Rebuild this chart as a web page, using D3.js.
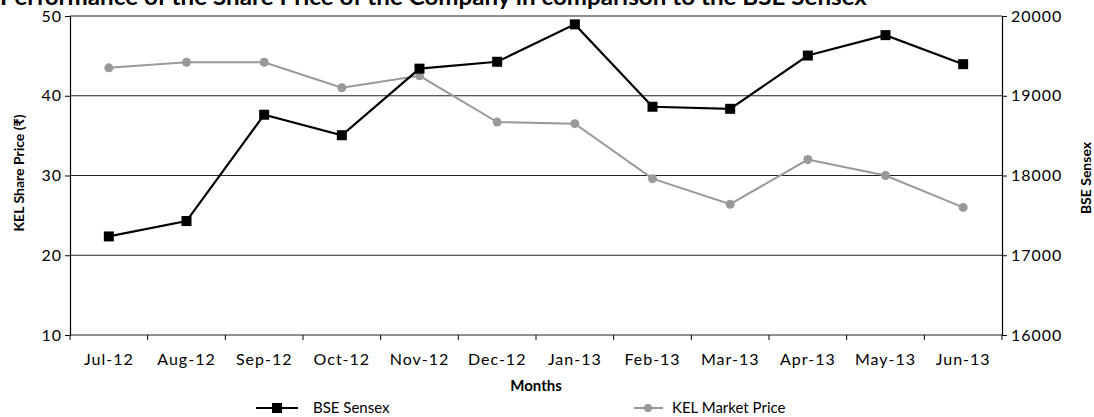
<!DOCTYPE html>
<html>
<head>
<meta charset="utf-8">
<script src="https://cdn.jsdelivr.net/npm/d3@7"></script>
<style>
  body { margin: 0; background: #fff; }
  svg { display: block; }
  text { font-family: "Lato", "Open Sans", sans-serif; fill: #000; }
</style>
</head>
<body>
<svg id="chart" width="1094" height="417"></svg>
<script>
const months = ["Jul-12","Aug-12","Sep-12","Oct-12","Nov-12","Dec-12","Jan-13","Feb-13","Mar-13","Apr-13","May-13","Jun-13"];
const bseSensex = [17236, 17429, 18762, 18505, 19340, 19426, 19895, 18862, 18836, 19504, 19760, 19396];
const kelPrice = [43.5, 44.2, 44.2, 41.0, 42.5, 36.7, 36.5, 29.6, 26.4, 32.0, 30.0, 26.0];
const leftTicks = [10, 20, 30, 40, 50];
const rightTicks = [16000, 17000, 18000, 19000, 20000];

const svg = d3.select("#chart");
const m = { left: 70, right: 1002, top: 16, bottom: 335 };

const x = d3.scaleBand().domain(months).range([m.left, m.right]);
const yL = d3.scaleLinear().domain([10, 50]).range([m.bottom, m.top]);
const yR = d3.scaleLinear().domain([16000, 20000]).range([m.bottom, m.top]);
const cx = d => x(d) + x.bandwidth() / 2;

// Title
svg.append("text").attr("x", 0).attr("y", 5)
  .attr("textLength", 867).attr("lengthAdjust", "spacingAndGlyphs")
  .style("font-size", "22px").style("font-weight", "bold")
  .text("Performance of the Share Price of the Company in comparison to the BSE Sensex");

// Gridlines
svg.append("g").selectAll("line").data(leftTicks).join("line")
  .attr("x1", m.left).attr("x2", m.right)
  .attr("y1", d => yL(d)).attr("y2", d => yL(d))
  .attr("stroke", "#222").attr("stroke-width", 1);

const tickStyle = sel => sel.selectAll("text")
  .style("font-size", "16px").style("letter-spacing", "1px")
  .style("font-family", "Lato, 'Open Sans', sans-serif");

// Left axis
const gL = svg.append("g").attr("transform", `translate(${m.left},0)`)
  .call(d3.axisLeft(yL).tickValues(leftTicks).tickSize(5).tickPadding(3));
gL.select(".domain").attr("stroke", "#000").attr("stroke-width", 1.2);
tickStyle(gL);

// Right axis
const gR = svg.append("g").attr("transform", `translate(${m.right},0)`)
  .call(d3.axisRight(yR).tickValues(rightTicks).tickSize(5).tickPadding(4).tickFormat(d3.format("d")));
gR.select(".domain").attr("stroke", "#000").attr("stroke-width", 1.2);
tickStyle(gR);

// Bottom axis with ticks at category boundaries
const gB = svg.append("g").attr("transform", `translate(0,${m.bottom})`)
  .call(d3.axisBottom(x).tickSize(0).tickPadding(19));
gB.select(".domain").remove();
tickStyle(gB);
const bounds = months.map(d => x(d)).concat([m.right]);
gB.selectAll("line.bt").data(bounds).join("line").attr("class", "bt")
  .attr("x1", d => d).attr("x2", d => d).attr("y1", 0).attr("y2", 5)
  .attr("stroke", "#000");

// Axis titles
svg.append("text").attr("transform", `translate(24,173) rotate(-90)`)
  .attr("text-anchor", "middle").style("font-size", "14px").style("font-weight", "bold")
  .text("KEL  Share Price (₹)");
svg.append("text").attr("transform", `translate(1091,178) rotate(-90)`)
  .attr("text-anchor", "middle").style("font-size", "14px").style("font-weight", "bold")
  .text("BSE Sensex");
svg.append("text").attr("x", (m.left + m.right) / 2).attr("y", 391)
  .attr("text-anchor", "middle").style("font-size", "15px").style("font-weight", "bold")
  .text("Months");

// KEL line
const kelData = months.map((d, i) => [d, kelPrice[i]]);
svg.append("path").datum(kelData)
  .attr("fill", "none").attr("stroke", "#999").attr("stroke-width", 2)
  .attr("d", d3.line().x(d => cx(d[0])).y(d => yL(d[1])));
svg.append("g").selectAll("circle").data(kelData).join("circle")
  .attr("cx", d => cx(d[0])).attr("cy", d => yL(d[1])).attr("r", 4.5).attr("fill", "#999");

// BSE line
const bseData = months.map((d, i) => [d, bseSensex[i]]);
svg.append("path").datum(bseData)
  .attr("fill", "none").attr("stroke", "#000").attr("stroke-width", 2.2)
  .attr("d", d3.line().x(d => cx(d[0])).y(d => yR(d[1])));
svg.append("g").selectAll("rect").data(bseData).join("rect")
  .attr("x", d => cx(d[0]) - 5).attr("y", d => yR(d[1]) - 5)
  .attr("width", 10).attr("height", 10).attr("fill", "#000");

// Legend
const leg = svg.append("g");
const ly = 408;
leg.append("line").attr("x1", 256).attr("x2", 298).attr("y1", ly).attr("y2", ly).attr("stroke", "#000").attr("stroke-width", 2.2);
leg.append("rect").attr("x", 272).attr("y", ly - 5).attr("width", 10).attr("height", 10).attr("fill", "#000");
leg.append("text").attr("x", 313).attr("y", ly + 5).style("font-size", "15px").text("BSE Sensex");
leg.append("line").attr("x1", 634).attr("x2", 663).attr("y1", ly).attr("y2", ly).attr("stroke", "#999").attr("stroke-width", 2);
leg.append("circle").attr("cx", 648).attr("cy", ly).attr("r", 4).attr("fill", "#999");
leg.append("text").attr("x", 672).attr("y", ly + 5).style("font-size", "15px").text("KEL Market Price");
</script>
</body>
</html>
